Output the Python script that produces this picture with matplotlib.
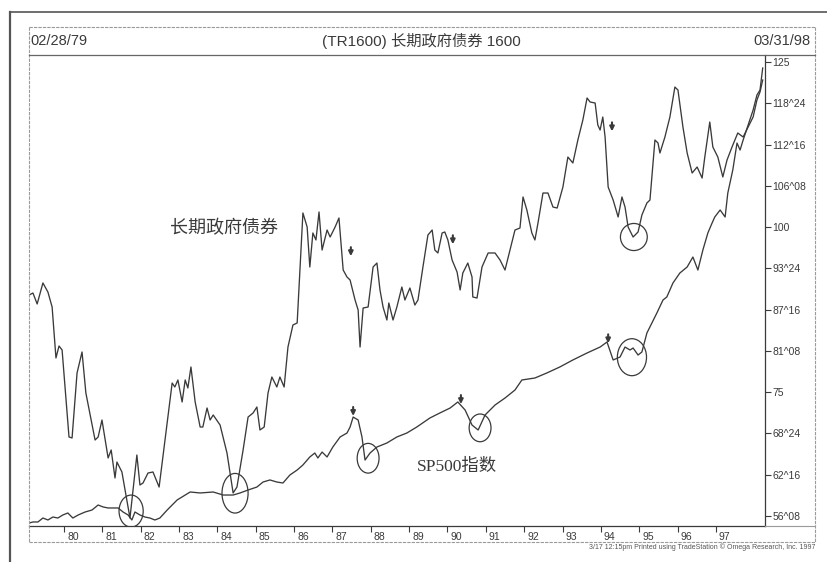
import matplotlib
matplotlib.use('Agg')
import matplotlib.pyplot as plt
import matplotlib.transforms as mtransforms
from matplotlib.patches import Ellipse
from matplotlib.lines import Line2D

plt.rcParams['font.family'] = ['Liberation Sans', 'Noto Sans CJK SC']

# long-term government bond (TR1600), monthly-ish readings
bond_year = [1979.09, 1979.19, 1979.30, 1979.45, 1979.58, 1979.69, 1979.79, 1979.87, 1979.95,
             1980.13, 1980.21, 1980.34, 1980.47, 1980.57, 1980.81, 1980.89, 1980.99, 1981.15,
             1981.23, 1981.33, 1981.38, 1981.51, 1981.72, 1981.90, 1981.98, 1982.06, 1982.19,
             1982.32, 1982.48, 1982.82, 1982.89, 1982.97, 1983.08, 1983.16, 1983.23, 1983.31,
             1983.42, 1983.55, 1983.62, 1983.73, 1983.81, 1983.89, 1984.07, 1984.25, 1984.41,
             1984.51, 1984.67, 1984.80, 1984.93, 1985.03, 1985.11, 1985.22, 1985.32, 1985.42,
             1985.55, 1985.63, 1985.74, 1985.84, 1985.97, 1986.08, 1986.23, 1986.34, 1986.41,
             1986.49, 1986.57, 1986.65, 1986.73, 1986.86, 1986.94, 1987.07, 1987.17, 1987.28,
             1987.38, 1987.46, 1987.59, 1987.67, 1987.72, 1987.80, 1987.93, 1988.06, 1988.16,
             1988.24, 1988.32, 1988.42, 1988.47, 1988.58, 1988.68, 1988.81, 1988.89, 1989.02,
             1989.15, 1989.23, 1989.36, 1989.49, 1989.60, 1989.67, 1989.75, 1989.86, 1989.93,
             1990.01, 1990.12, 1990.25, 1990.33, 1990.40, 1990.53, 1990.64, 1990.66, 1990.77,
             1990.90, 1991.06, 1991.24, 1991.37, 1991.50, 1991.63, 1991.76, 1991.89, 1991.97,
             1992.07, 1992.20, 1992.28, 1992.36, 1992.49, 1992.62, 1992.75, 1992.86, 1993.01,
             1993.14, 1993.27, 1993.40, 1993.53, 1993.64, 1993.72, 1993.85, 1993.92, 1993.98,
             1994.05, 1994.11, 1994.19, 1994.32, 1994.45, 1994.55, 1994.63, 1994.71, 1994.84,
             1994.97, 1995.07, 1995.20, 1995.28, 1995.41, 1995.49, 1995.54, 1995.67, 1995.80,
             1995.93, 1996.01, 1996.14, 1996.25, 1996.38, 1996.51, 1996.64, 1996.71, 1996.84,
             1996.92, 1997.05, 1997.18, 1997.29, 1997.42, 1997.57, 1997.71, 1997.84, 1997.97,
             1998.07, 1998.15, 1998.22]
bond_val = [89.72, 90.02, 88.36, 91.54, 90.17, 87.90, 80.18, 82.00, 81.39,
            68.22, 68.07, 77.91, 81.09, 74.88, 67.76, 68.22, 70.79, 65.04,
            66.25, 62.01, 64.43, 62.92, 55.95, 65.49, 60.95, 61.25, 62.76,
            62.92, 60.64, 76.39, 75.79, 76.85, 73.52, 76.85, 75.64, 78.82,
            73.52, 69.73, 69.73, 72.61, 70.79, 71.55, 70.03, 65.79, 59.74,
            60.64, 66.25, 71.24, 71.85, 72.76, 69.28, 69.73, 74.88, 77.30,
            75.79, 77.30, 75.79, 81.84, 85.18, 85.48, 102.14, 100.02, 93.96,
            99.11, 98.05, 102.29, 96.53, 99.56, 98.50, 100.02, 101.38, 93.50,
            92.44, 91.99, 88.96, 87.45, 81.84, 87.75, 87.90, 93.96, 94.56,
            90.48, 87.90, 85.93, 88.51, 85.93, 87.90, 90.93, 88.96, 90.78,
            88.20, 88.96, 93.96, 98.80, 99.56, 96.53, 96.08, 99.11, 99.26,
            98.05, 95.02, 93.20, 90.48, 93.05, 94.56, 92.44, 89.42, 89.26,
            93.96, 96.08, 96.08, 95.02, 93.50, 96.53, 99.56, 99.86, 104.56,
            102.59, 99.11, 98.05, 100.62, 105.16, 105.16, 103.04, 102.89, 106.07,
            110.61, 109.71, 113.19, 116.22, 119.55, 118.94, 118.79, 115.46, 114.70,
            116.67, 113.64, 106.07, 104.10, 101.53, 104.56, 103.04, 100.02, 98.50,
            99.26, 101.83, 103.65, 104.10, 113.19, 112.73, 111.22, 113.64, 116.67,
            121.21, 120.76, 115.16, 111.22, 108.19, 109.10, 107.43, 110.61, 115.91,
            112.13, 110.61, 107.59, 110.16, 112.13, 114.25, 113.64, 115.16, 116.67,
            119.25, 120.46, 122.27]

# S&P 500 (same price scale on the chart)
sp_year = [1979.09, 1979.19, 1979.32, 1979.45, 1979.58, 1979.71, 1979.84, 1979.97, 1980.10,
           1980.23, 1980.37, 1980.55, 1980.73, 1980.89, 1981.02, 1981.15, 1981.28, 1981.41,
           1981.54, 1981.67, 1981.77, 1981.85, 1981.98, 1982.11, 1982.24, 1982.37, 1982.50,
           1982.69, 1982.95, 1983.29, 1983.55, 1983.89, 1984.15, 1984.41, 1984.59, 1984.80,
           1985.03, 1985.19, 1985.37, 1985.55, 1985.71, 1985.89, 1986.08, 1986.23, 1986.41,
           1986.54, 1986.62, 1986.73, 1986.86, 1987.01, 1987.20, 1987.38, 1987.46, 1987.54,
           1987.67, 1987.77, 1987.85, 1987.98, 1988.16, 1988.42, 1988.68, 1988.94, 1989.20,
           1989.54, 1989.80, 1990.07, 1990.27, 1990.46, 1990.64, 1990.80, 1990.98, 1991.24,
           1991.50, 1991.76, 1991.94, 1992.28, 1992.59, 1992.93, 1993.27, 1993.64, 1993.98,
           1994.16, 1994.32, 1994.50, 1994.63, 1994.76, 1994.84, 1994.97, 1995.07, 1995.20,
           1995.46, 1995.62, 1995.72, 1995.88, 1996.06, 1996.25, 1996.40, 1996.53, 1996.66,
           1996.79, 1996.90, 1996.97, 1997.11, 1997.24, 1997.31, 1997.44, 1997.55, 1997.63,
           1997.71, 1997.84, 1997.97, 1998.07, 1998.15, 1998.22]
sp_val = [55.19, 55.35, 55.35, 55.95, 55.65, 56.10, 55.95, 56.41, 56.71,
          55.95, 56.41, 56.86, 57.16, 57.92, 57.62, 57.47, 57.47, 57.47,
          56.86, 56.41, 55.65, 56.86, 56.41, 56.10, 55.95, 55.65, 55.95,
          57.16, 58.68, 59.89, 59.74, 59.89, 59.43, 59.43, 59.74, 60.19,
          60.64, 61.40, 61.71, 61.40, 61.25, 62.46, 63.22, 63.98, 65.19,
          65.79, 65.04, 65.94, 65.19, 66.70, 68.22, 68.82, 69.73, 71.24,
          70.79, 68.22, 64.73, 65.79, 66.70, 67.31, 68.22, 68.82, 69.73,
          71.09, 71.85, 72.61, 73.52, 72.30, 70.03, 69.28, 71.55, 73.06,
          74.12, 75.33, 76.85, 77.15, 77.91, 78.82, 79.88, 80.94, 81.84,
          82.60, 79.88, 80.33, 81.84, 81.39, 81.69, 80.63, 81.09, 83.96,
          86.99, 88.96, 89.42, 91.54, 93.05, 93.96, 95.47, 93.50, 96.53,
          99.11, 100.62, 101.53, 102.59, 101.53, 105.16, 108.65, 112.73, 111.67,
          113.19, 115.46, 117.73, 120.00, 120.76, 124.09]

year_ticks = list(range(1980, 1998))
year_labels = [str(y)[2:] for y in year_ticks]
price_ticks = [56.25, 62.5, 68.75, 75, 81.25, 87.5, 93.75, 100, 106.25, 112.5, 118.75, 125]
price_labels = ['56^08', '62^16', '68^24', '75', '81^08', '87^16', '93^24', '100',
                '106^08', '112^16', '118^24', '125']

# down-arrow tips (year, price)
bond_arrows = [(1987.48, 95.6), (1990.14, 97.4), (1994.29, 114.5)]
sp_arrows = [(1987.54, 71.4), (1990.35, 73.2), (1994.19, 82.4)]

# hand-drawn circles: centre year, centre price, width (yr), height (price)
circles = [(1981.75, 57.0, 0.63, 4.85), (1984.46, 59.7, 0.68, 6.0),
           (1987.93, 65.0, 0.57, 4.5), (1990.85, 69.6, 0.57, 4.2),
           (1994.86, 98.5, 0.70, 4.1), (1994.81, 80.3, 0.76, 5.6)]

W, H = 827, 562
ink = '#3a3a3a'

fig = plt.figure(figsize=(W / 100, H / 100), dpi=100)
fig.patch.set_facecolor('white')


def fx(x):
    return x / W


def fy(y):
    return 1 - y / H


ax = fig.add_axes([fx(29), fy(526), fx(765) - fx(29), fy(55) - fy(526)])
ax.plot(bond_year, bond_val, color=ink, lw=0.95)
ax.plot(sp_year, sp_val, color=ink, lw=0.95)

for cx, cy, w, h in circles:
    ax.add_patch(Ellipse((cx, cy), w, h, fill=False, ec=ink, lw=0.9))

for x, y in bond_arrows + sp_arrows:
    ax.annotate('', xy=(x, y), xytext=(0, 9), textcoords='offset pixels',
                arrowprops=dict(arrowstyle='-|>', color=ink, lw=1.5, mutation_scale=6.5,
                                shrinkA=0, shrinkB=0))

ax.text(1984.17, 99.9, '长期政府债券', fontsize=13, color=ink, ha='center', va='center',
        family=['Noto Sans CJK SC'])
ax.text(1990.25, 63.7, 'SP500指数', fontsize=12.5, color=ink, ha='center', va='center',
        family=['Liberation Serif', 'Noto Sans CJK SC'])

ax.set_xlim(1979.087, 1998.28)
ax.set_ylim(54.74, 126.06)

ax.set_xticks(year_ticks)
ax.set_xticklabels(year_labels)
ax.set_yticks(price_ticks)
ax.set_yticklabels(price_labels)
ax.yaxis.tick_right()
ax.tick_params(axis='y', direction='out', length=4, width=0.8, colors=ink, labelsize=7.5, pad=1.5)
ax.tick_params(axis='x', direction='out', length=4, width=0.8, colors=ink, labelsize=7.5, pad=0.5)
shift = mtransforms.ScaledTranslation(3 / 100, 0, fig.dpi_scale_trans)
for lab in ax.get_xticklabels():
    lab.set_horizontalalignment('left')
    lab.set_transform(lab.get_transform() + shift)

for side in ['top', 'left']:
    ax.spines[side].set_visible(False)
for side in ['bottom', 'right']:
    ax.spines[side].set_color(ink)
    ax.spines[side].set_linewidth(0.9)


def fline(x0, y0, x1, y1, **kw):
    fig.add_artist(Line2D([fx(x0), fx(x1)], [fy(y0), fy(y1)], transform=fig.transFigure, **kw))


# outer page frame
fline(10, 12, 10, 562, color='#555555', lw=1.6)
fline(10, 12, 827, 12, color='#555555', lw=1.2)
# inner chart box
box = dict(color='#9a9a9a', lw=0.8, ls=(0, (3, 1)))
fline(29, 27, 815, 27, **box)
fline(29, 27, 29, 542, **box)
fline(815, 27, 815, 542, **box)
fline(29, 542, 815, 542, **box)
fline(29, 55, 815, 55, color='#666666', lw=0.9)
fline(765, 526, 815, 526, color='#9a9a9a', lw=0.8)

fig.text(fx(30), fy(41), '02/28/79', fontsize=10.5, color=ink, ha='left', va='center')
fig.text(fx(811), fy(41), '03/31/98', fontsize=10.5, color=ink, ha='right', va='center')
fig.text(fx(421), fy(41), '(TR1600) 长期政府债券 1600', fontsize=11, color=ink,
         ha='center', va='center')
fig.text(fx(815), fy(547), '3/17 12:15pm Printed using TradeStation \u00a9 Omega Research, Inc. 1997',
         fontsize=5, color='#555555', ha='right', va='center')

fig.savefig('out.png', dpi=100, facecolor='white')
